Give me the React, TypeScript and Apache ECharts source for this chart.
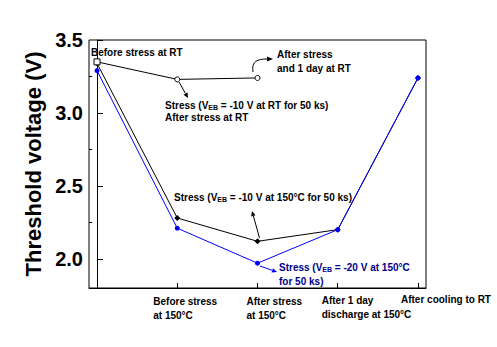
import React, { useEffect, useRef } from "react";
import * as echarts from "echarts";

const xPositions = [0, 1, 2, 3, 4];
const xTickLabels = [
  "",
  "Before stress\nat 150°C",
  "After stress\nat 150°C",
  "After 1 day\ndischarge at 150°C",
  "After cooling to RT",
];
const rtStressValues = [3.35, 3.23, 3.24];
const stress10Values = [3.34, 2.28, 2.12, 2.2, 3.24];
const stress20Values = [3.29, 2.21, 1.97, 2.2, 3.24];
const yTickValues = [2.0, 2.5, 3.0, 3.5];
const yMinorTickValues = [2.25, 2.75, 3.25];

const FONT = "'Liberation Sans', Arial, sans-serif";
const NAVY = "#00008b";

function arrow(x1: number, y1: number, x2: number, y2: number, color: string, head = 5, hw = 2.3) {
  const dx = x2 - x1, dy = y2 - y1;
  const L = Math.hypot(dx, dy);
  const ux = dx / L, uy = dy / L;
  const bx = x2 - ux * head, by = y2 - uy * head;
  const px = -uy, py = ux;
  return [
    { type: "line", silent: true, shape: { x1, y1, x2: bx, y2: by }, style: { stroke: color, lineWidth: 1 } },
    {
      type: "polygon",
      silent: true,
      shape: { points: [[x2, y2], [bx + px * hw, by + py * hw], [bx - px * hw, by - py * hw]] },
      style: { fill: color },
    },
  ];
}

function txt(x: number, y: number, text: string, color = "#000", rich?: any) {
  const style: any = {
    text,
    x: 0,
    y: 0,
    fill: color,
    fontSize: 10,
    fontWeight: "bold",
    fontFamily: FONT,
    align: "left",
    verticalAlign: "middle",
  };
  if (rich) style.rich = rich;
  return { type: "text", x, y, silent: true, style };
}

function richStyles(color: string) {
  return {
    n: { fontSize: 10, fontWeight: "bold", fontFamily: FONT, fill: color, color, lineHeight: 14 },
    s: { fontSize: 7, fontWeight: "bold", fontFamily: FONT, fill: color, color, lineHeight: 14, padding: [5, 0, 0, 0] },
  };
}

export default function App() {
  const ref = useRef<HTMLDivElement>(null);
  useEffect(() => {
    if (!ref.current) return;
    const chart = echarts.init(ref.current, null, { renderer: "svg" });
    const option: any = {
      animation: false,
      backgroundColor: "#fff",
      grid: {
        left: 89,
        top: 40,
        right: 71,
        bottom: 59,
        show: true,
        borderColor: "#000",
        borderWidth: 1,
        backgroundColor: "transparent",
        outerBoundsMode: "none",
      },
      xAxis: {
        type: "value",
        min: -0.1,
        max: 4.1,
        axisLine: { show: true, lineStyle: { color: "#000", width: 1 } },
        axisTick: { show: true, inside: true, length: 5, customValues: xPositions, lineStyle: { color: "#000" } },
        axisLabel: { show: false },
        splitLine: { show: false },
      },
      yAxis: [
        {
          type: "value",
          min: 1.8,
          max: 3.5,
          name: "Threshold voltage (V)",
          nameLocation: "middle",
          nameGap: 42,
          nameTextStyle: { fontSize: 22, fontWeight: "bold", fontFamily: FONT, color: "#000" },
          axisLine: { show: true, lineStyle: { color: "#000", width: 1 } },
          axisTick: { show: true, inside: true, length: 6, customValues: yTickValues, lineStyle: { color: "#000" } },
          axisLabel: {
            show: true,
            customValues: yTickValues,
            formatter: (v: number) => v.toFixed(1),
            fontSize: 20,
            fontWeight: "bold",
            fontFamily: FONT,
            color: "#000",
            margin: 6,
          },
          splitLine: { show: false },
        },
        {
          type: "value",
          min: 1.8,
          max: 3.5,
          position: "left",
          axisLine: { show: false },
          axisTick: { show: true, inside: true, length: 3, customValues: yMinorTickValues, lineStyle: { color: "#000" } },
          axisLabel: { show: false },
          splitLine: { show: false },
        },
      ],
      series: [
        {
          type: "line",
          data: stress10Values.map((v, i) => [xPositions[i], v]),
          color: "#000",
          lineStyle: { color: "#000", width: 1 },
          symbol: "diamond",
          symbolSize: 6,
          itemStyle: { color: "#000" },
          z: 2,
        },
        {
          type: "line",
          data: stress20Values.map((v, i) => [xPositions[i], v]),
          color: "#0000ff",
          lineStyle: { color: "#0000ff", width: 1 },
          symbol: "circle",
          symbolSize: 5,
          itemStyle: { color: "#0000ff" },
          z: 3,
        },
        {
          type: "line",
          data: rtStressValues.map((v, i) => ({
            value: [xPositions[i], v],
            symbol: i === 0 ? "rect" : "circle",
            symbolSize: i === 0 ? 6 : 5,
          })),
          color: "#000",
          lineStyle: { color: "#000", width: 1 },
          showSymbol: true,
          itemStyle: { color: "#fff", borderColor: "#000", borderWidth: 1 },
          z: 4,
        },
      ],
    };
    chart.setOption(option);

    const labelDx = [0, -24, -11, -16, -17];
    const labelDy = [301, 301, 301, 300, 299];
    const graphics: any[] = [];
    xTickLabels.forEach((lab, i) => {
      if (!lab) return;
      const px = chart.convertToPixel({ xAxisIndex: 0 }, xPositions[i]) as number;
      lab.split("\n").forEach((line, k) => {
        graphics.push(txt(px + labelDx[i], labelDy[i] + 14.5 * k, line));
      });
    });

    // annotations
    graphics.push(txt(91, 52, "Before stress at RT"));
    graphics.push(txt(277, 54, "After stress"));
    graphics.push(txt(277, 68, "and 1 day at RT"));
    graphics.push({
      type: "bezierCurve",
      silent: true,
      shape: { x1: 253, y1: 72, cpx1: 251, cpy1: 61, cpx2: 258, cpy2: 59, x2: 267, y2: 59 },
      style: { stroke: "#000", lineWidth: 1, fill: "none" },
    });
    graphics.push({
      type: "polygon",
      silent: true,
      shape: { points: [[273, 59], [267, 56.6], [267, 61.4]] },
      style: { fill: "#000" },
    });

    graphics.push(...arrow(179, 82, 188, 98, "#000"));
    graphics.push(
      txt(165, 105, "", "#000", undefined)
    );
    graphics.pop();
    graphics.push({
      type: "text",
      x: 165,
      y: 105,
      silent: true,
      style: {
        text: "{n|Stress (V}{s|EB}{n| = -10 V at RT for 50 ks)}",
        rich: richStyles("#000"),
        verticalAlign: "middle",
        align: "left",
      },
    });
    graphics.push(txt(165, 117, "After stress at RT"));

    graphics.push(...arrow(259.5, 238, 252, 211, "#000"));
    graphics.push({
      type: "text",
      x: 174,
      y: 197,
      silent: true,
      style: {
        text: "{n|Stress (V}{s|EB}{n| = -10 V at 150°C for 50 ks)}",
        rich: richStyles("#000"),
        verticalAlign: "middle",
        align: "left",
      },
    });

    graphics.push(...arrow(260, 266, 277, 272, "#0000ff"));
    graphics.push({
      type: "text",
      x: 279,
      y: 267,
      silent: true,
      style: {
        text: "{n|Stress (V}{s|EB}{n| = -20 V at 150°C}",
        rich: richStyles(NAVY),
        verticalAlign: "middle",
        align: "left",
      },
    });
    graphics.push(txt(279, 281, "for 50 ks)", NAVY));

    chart.setOption({ graphic: graphics });
    return () => chart.dispose();
  }, []);
  return (
    <div
      ref={ref}
      style={{ position: "absolute", left: 0, top: 0, width: 497, height: 347, background: "#fff" }}
    />
  );
}
